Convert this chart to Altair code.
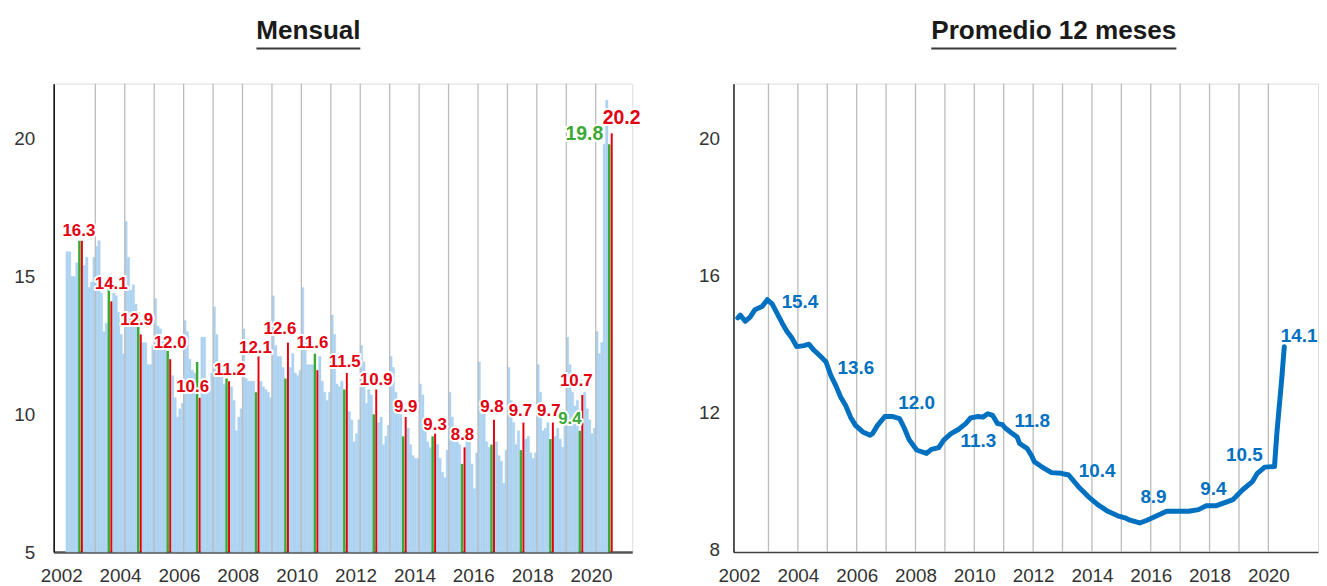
import altair as alt
import pandas as pd

# ---------------- data ----------------
first_year = 2002
rates_2002 = [15.9, 15.9, 15.0, 15.0, 15.5, 16.3, 16.3, 15.4, 15.7, 14.6, 14.8, 15.7]
rates_2003 = [16.1, 16.3, 14.4, 13.0, 13.3, 14.8, 14.1, 14.4, 14.3, 13.7, 12.9, 12.2]
rates_2004 = [17.0, 15.7, 14.5, 14.7, 14.0, 13.7, 12.9, 12.6, 12.6, 11.8, 11.8, 12.5]
rates_2005 = [14.2, 13.2, 13.1, 12.8, 12.4, 12.3, 12.0, 11.4, 10.6, 9.9, 10.2, 10.4]
rates_2006 = [13.4, 13.0, 12.0, 11.6, 11.5, 11.9, 10.6, 12.8, 12.8, 11.0, 11.0, 11.5]
rates_2007 = [13.9, 12.9, 11.7, 11.6, 11.1, 11.3, 11.2, 11.0, 10.5, 9.4, 9.9, 10.2]
rates_2008 = [13.1, 11.3, 11.2, 11.2, 11.2, 10.8, 12.1, 11.2, 11.0, 10.9, 10.8, 10.6]
rates_2009 = [14.3, 12.5, 12.1, 12.1, 11.7, 11.3, 12.6, 11.7, 12.2, 11.5, 11.4, 11.6]
rates_2010 = [14.6, 12.6, 11.8, 11.8, 11.8, 12.2, 11.6, 12.1, 11.2, 10.8, 10.5, 10.8]
rates_2011 = [13.6, 12.9, 11.1, 11.0, 11.2, 10.9, 11.5, 10.1, 9.8, 9.0, 9.3, 9.8]
rates_2012 = [12.5, 11.9, 10.4, 10.9, 10.7, 10.0, 10.9, 9.7, 9.9, 8.9, 9.2, 9.6]
rates_2013 = [12.1, 11.7, 10.8, 10.5, 10.0, 9.2, 9.9, 9.5, 8.9, 8.5, 8.4, 8.4]
rates_2014 = [11.1, 10.7, 9.7, 9.0, 8.8, 9.2, 9.3, 8.9, 8.4, 7.9, 7.7, 8.7]
rates_2015 = [10.8, 9.9, 9.0, 9.5, 8.9, 8.2, 8.8, 9.1, 9.0, 8.2, 7.3, 8.6]
rates_2016 = [11.9, 10.0, 10.1, 9.0, 8.8, 8.9, 9.8, 9.0, 8.5, 8.3, 7.5, 8.7]
rates_2017 = [11.7, 10.5, 9.7, 8.9, 9.4, 8.7, 9.7, 9.1, 9.2, 8.6, 8.4, 8.6]
rates_2018 = [11.8, 10.8, 9.4, 9.5, 9.7, 9.1, 9.7, 9.2, 9.5, 9.1, 8.8, 9.7]
rates_2019 = [12.8, 11.8, 10.8, 10.3, 10.5, 9.4, 10.7, 10.8, 10.2, 9.8, 9.3, 9.5]
rates_2020 = [13.0, 12.2, 12.6, 19.8, 21.4, 19.8, 20.2]
monthly_rates = [rates_2002, rates_2003, rates_2004, rates_2005, rates_2006,
                 rates_2007, rates_2008, rates_2009, rates_2010, rates_2011,
                 rates_2012, rates_2013, rates_2014, rates_2015, rates_2016,
                 rates_2017, rates_2018, rates_2019, rates_2020]

# years whose June (green) value is labelled
green_label_years = [2019, 2020]

# 12-month moving average (right panel)
avg_months = ["2001-12", "2002-01", "2002-03", "2002-05", "2002-07", "2002-10", "2002-12",
              "2003-02", "2003-06", "2003-08", "2003-10", "2003-12", "2004-03", "2004-05",
              "2004-07", "2004-10", "2004-12", "2005-02", "2005-04", "2005-06", "2005-08",
              "2005-10", "2005-12", "2006-03", "2006-06", "2006-07", "2006-09", "2006-12",
              "2007-03", "2007-06", "2007-08", "2007-10", "2008-01", "2008-03", "2008-05",
              "2008-07", "2008-10", "2008-12", "2009-03", "2009-06", "2009-09", "2009-11",
              "2010-02", "2010-04", "2010-06", "2010-08", "2010-10", "2010-12", "2011-01",
              "2011-04", "2011-06", "2011-07", "2011-10", "2011-12", "2012-01", "2012-04",
              "2012-08", "2012-12", "2013-03", "2013-07", "2013-11", "2014-03", "2014-07",
              "2014-11", "2015-02", "2015-04", "2015-08", "2015-11", "2016-03", "2016-07",
              "2016-12", "2017-04", "2017-08", "2017-11", "2018-03", "2018-07", "2018-10",
              "2019-02", "2019-06", "2019-08", "2019-11", "2020-03", "2020-04", "2020-05",
              "2020-06", "2020-07"]
avg_values = [14.84, 14.92, 14.74, 14.86, 15.08, 15.18, 15.37,
              15.25, 14.70, 14.45, 14.26, 14.00, 14.03, 14.07,
              13.90, 13.70, 13.55, 13.15, 12.86, 12.52, 12.28,
              11.94, 11.70, 11.51, 11.41, 11.46, 11.70, 11.96,
              11.96, 11.90, 11.61, 11.27, 10.98, 10.93, 10.88,
              11.00, 11.05, 11.27, 11.46, 11.58, 11.75, 11.92,
              11.96, 11.94, 12.04, 11.99, 11.75, 11.72, 11.63,
              11.46, 11.36, 11.17, 11.03, 10.80, 10.64, 10.49,
              10.32, 10.30, 10.25, 9.91, 9.62, 9.38, 9.19,
              9.06, 9.00, 8.93, 8.85, 8.93, 9.06, 9.19,
              9.19, 9.19, 9.24, 9.35, 9.35, 9.45, 9.53,
              9.82, 10.06, 10.30, 10.48, 10.50, 11.50, 12.30,
              13.10, 14.00]

avg_label_months = ["2002-12", "2004-12", "2006-12", "2008-12", "2010-12",
                    "2012-12", "2015-12", "2017-12", "2019-12", "2020-07"]
avg_label_values = [15.4, 13.6, 12.0, 11.3, 11.8, 10.4, 8.9, 9.4, 10.5, 14.1]

title_left = "Mensual"
title_right = "Promedio 12 meses"
grid_years = list(range(2003, 2021))
left_tick_years = list(range(2002, 2021, 2))
right_tick_years = list(range(2002, 2021, 2))

# ---------------- styling / layout constants ----------------
BLUE_BAR = "#aed3f1"
GREEN = "#3aa935"
RED = "#e3000f"
LINE_BLUE = "#0070c0"
GRID = "#bcbcbc"
TXT = "#333333"
FONT = "Liberation Sans"

WL, HL = 583, 472
WR, HR = 589, 472
xL_dom = [2001.584, 2021.24]
xR_dom = [2001.81, 2021.688]
yL_dom = [5, 22]
yR_dom = [8, 21.68]
pxL = WL / (xL_dom[1] - xL_dom[0])
pxR = WR / (xR_dom[1] - xR_dom[0])
puL = HL / (yL_dom[1] - yL_dom[0])
puR = HR / (yR_dom[1] - yR_dom[0])

# label offsets in pixels (dx, dy) relative to their bar / point
red_label_offsets = {2002: (-3, -10), 2003: (0, -17), 2004: (-4, -14), 2005: (0, -16),
                     2006: (-7, -11), 2007: (1, -11), 2008: (-3, -8), 2009: (-8, -14),
                     2010: (-5, -27), 2011: (-2, -11), 2012: (0, -10), 2013: (0, -10),
                     2014: (0, -9), 2015: (-2, -12), 2016: (-2, -13), 2017: (-3, -12),
                     2018: (-4, -12), 2019: (-6, -14), 2020: (10, -15)}
green_label_offsets = {2019: (-10, -12), 2020: (-25, -10)}
avg_label_offsets = [(33, 3), (30, 8), (32, -12), (35, 2), (30, -1),
                     (36, 1), (4, -24), (5, -15), (-23, -11), (15, -7)]

# ---------------- tables ----------------
rows = []
for i, vals in enumerate(monthly_rates):
    yr = first_year + i
    for m, v in enumerate(vals, start=1):
        kind = "jun" if m == 6 else ("jul" if m == 7 else "other")
        rows.append({"year": yr, "month": m, "value": v, "kind": kind})
df = pd.DataFrame(rows)
df["t0"] = df["year"] + (df["month"] - 1) / 12
df["t1"] = df["year"] + df["month"] / 12
df["r0"] = df["t0"] + 0.12 / 12
df["r1"] = df["t1"] - 0.08 / 12

lab_rows = []
for _, r in df[df.kind == "jul"].iterrows():
    dx, dy = red_label_offsets[int(r.year)]
    lab_rows.append({"tx": (r.t0 + r.t1) / 2 + dx / pxL, "ty": r.value - dy / puL,
                     "txt": f"{r.value:.1f}", "col": "red",
                     "size": 19.5 if r.year == 2020 else 17})
for _, r in df[(df.kind == "jun") & (df.year.isin(green_label_years))].iterrows():
    dx, dy = green_label_offsets[int(r.year)]
    lab_rows.append({"tx": (r.t0 + r.t1) / 2 + dx / pxL, "ty": r.value - dy / puL,
                     "txt": f"{r.value:.1f}", "col": "green",
                     "size": 19.5 if r.year == 2020 else 17})
labL = pd.DataFrame(lab_rows)


def month_pos(s):
    y, m = s.split("-")
    return int(y) + (int(m) - 1) / 12 + 1 / 24


avg_df = pd.DataFrame({"t": [month_pos(s) for s in avg_months], "v": avg_values})
labR = pd.DataFrame({
    "tx": [month_pos(s) + o[0] / pxR for s, o in zip(avg_label_months, avg_label_offsets)],
    "ty": [v - o[1] / puR for v, o in zip(avg_label_values, avg_label_offsets)],
    "txt": [f"{v:.1f}" for v in avg_label_values],
})

# ---------------- scales & axes ----------------
xL = alt.Scale(domain=xL_dom, nice=False, zero=False)
yL = alt.Scale(domain=yL_dom, nice=False, zero=False)
xR = alt.Scale(domain=xR_dom, nice=False, zero=False)
yR = alt.Scale(domain=yR_dom, nice=False, zero=False)

axis_common = dict(title=None, grid=False, ticks=False, tickSize=0, labelFont=FONT,
                   labelFontSize=19, labelColor=TXT, labelFlush=False, labelOverlap=False)
axXL = alt.Axis(values=[y - 0.16 for y in left_tick_years],
                labelExpr="'' + round(datum.value + 0.16)",
                domainColor="#555555", domainWidth=2.5, labelPadding=15, **axis_common)
axYL = alt.Axis(values=[5, 10, 15, 20], domainColor="#000000", domainWidth=1.5,
                labelPadding=19, **axis_common)
axXR = alt.Axis(values=right_tick_years, labelExpr="'' + datum.value",
                domainColor="#404040", domainWidth=1.6, labelPadding=15, **axis_common)
axYR = alt.Axis(values=[8, 12, 16, 20], domainColor="#000000", domainWidth=1.3,
                labelPadding=14, labelOffset=-3, **axis_common)

# ---------------- left panel ----------------
base = alt.Chart(df)
blue = base.transform_filter("datum.kind == 'other'").mark_bar(
    color=BLUE_BAR, stroke=BLUE_BAR, strokeWidth=0.4).encode(
    x=alt.X("t0:Q", scale=xL, axis=axXL), x2="t1:Q",
    y=alt.Y("value:Q", scale=yL, axis=axYL), y2=alt.datum(5))

gridL = alt.Chart(pd.DataFrame({"yr": grid_years})).mark_rule(
    color=GRID, strokeWidth=1.3).encode(x=alt.X("yr:Q", scale=xL, axis=axXL))

green = base.transform_filter("datum.kind == 'jun'").mark_bar(color=GREEN).encode(
    x=alt.X("t0:Q", scale=xL, axis=axXL), x2="t1:Q",
    y=alt.Y("value:Q", scale=yL, axis=axYL), y2=alt.datum(5))

red = base.transform_filter("datum.kind == 'jul'").mark_bar(color=RED).encode(
    x=alt.X("r0:Q", scale=xL, axis=axXL), x2="r1:Q",
    y=alt.Y("value:Q", scale=yL, axis=axYL), y2=alt.datum(5))


def label_layer(data, color, size, halo):
    kw = dict(font=FONT, fontWeight="bold", fontSize=size, align="center", baseline="middle")
    if halo:
        return alt.Chart(data).mark_text(color="white", stroke="white", strokeWidth=4,
                                         strokeJoin="round", **kw)
    return alt.Chart(data).mark_text(color=color, **kw)


def lab_enc(ch, xs, ys, xa, ya):
    return ch.encode(x=alt.X("tx:Q", scale=xs, axis=xa),
                     y=alt.Y("ty:Q", scale=ys, axis=ya), text="txt:N")


label_parts = []
for col, c in [("red", RED), ("green", GREEN)]:
    for size in [17, 19.5]:
        sub = labL[(labL.col == col) & (labL["size"] == size)]
        if len(sub) == 0:
            continue
        label_parts.append(lab_enc(label_layer(sub, c, size, True), xL, yL, axXL, axYL))
        label_parts.append(lab_enc(label_layer(sub, c, size, False), xL, yL, axXL, axYL))

TITLE_KW = dict(font=FONT, fontWeight="bold", fontSize=26.3, color="#1a1a1a",
                align="center", baseline="alphabetic")

tL = pd.DataFrame({"label": [title_left]})
titleL = alt.Chart(tL).mark_text(**TITLE_KW).encode(
    text="label:N", x=alt.value(256.7), y=alt.value(-45))
ulineL = alt.Chart(tL).mark_rule(color="#3a3a3a", strokeWidth=2).encode(
    x=alt.value(204.3), x2=alt.value(309), y=alt.value(-35.5))

left = alt.layer(blue, gridL, green, red, *label_parts, titleL, ulineL).properties(
    width=WL, height=HL)

# ---------------- right panel ----------------
gridR = alt.Chart(pd.DataFrame({"yr": grid_years})).mark_rule(
    color=GRID, strokeWidth=1.3).encode(x=alt.X("yr:Q", scale=xR, axis=axXR))
line = alt.Chart(avg_df).mark_line(color=LINE_BLUE, strokeWidth=5, strokeCap="round",
                                   strokeJoin="round").encode(
    x=alt.X("t:Q", scale=xR, axis=axXR), y=alt.Y("v:Q", scale=yR, axis=axYR))
labR_txt = alt.Chart(labR).mark_text(font=FONT, fontWeight="bold", fontSize=19,
                                     color=LINE_BLUE, align="center", baseline="middle").encode(
    x=alt.X("tx:Q", scale=xR, axis=axXR), y=alt.Y("ty:Q", scale=yR, axis=axYR), text="txt:N")

tR = pd.DataFrame({"label": [title_right]})
titleR = alt.Chart(tR).mark_text(**TITLE_KW).encode(
    text="label:N", x=alt.value(322.8), y=alt.value(-45))
ulineR = alt.Chart(tR).mark_rule(color="#3a3a3a", strokeWidth=2).encode(
    x=alt.value(199.3), x2=alt.value(446.3), y=alt.value(-35.5))

right = alt.layer(gridR, line, labR_txt, titleR, ulineR).properties(width=WR, height=HR)

chart = alt.hconcat(left, right, spacing=102, bounds="flush").properties(
    padding={"left": 5, "top": 7, "right": 0, "bottom": 0}
).configure_view(stroke=None).configure(background="white")

chart.save("out.html", embed_options={"renderer": "svg", "actions": False})
